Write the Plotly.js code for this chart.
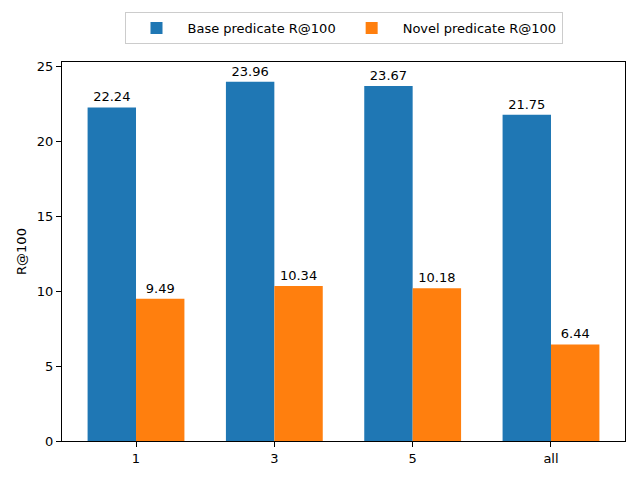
<!DOCTYPE html>
<html>
<head>
<meta charset="utf-8">
<script src="https://cdn.plot.ly/plotly-3.0.1.min.js"></script>
<style>html,body{margin:0;padding:0;background:#fff;}#chart{width:640px;height:480px;}</style>
</head>
<body>
<div id="chart"></div>
<script>
const categories = ["1", "3", "5", "all"];
const basePredicate = [22.24, 23.96, 23.67, 21.75];
const novelPredicate = [9.49, 10.34, 10.18, 6.44];
const seriesNames = ["Base predicate R@100", "Novel predicate R@100"];
const yTicks = [0, 5, 10, 15, 20, 25];

const xs = categories.map((c, i) => i);
const font = {family: "DejaVu Sans, sans-serif", size: 13, color: "#000"};

const traces = [
  {type: "bar", x: xs, y: basePredicate, name: seriesNames[0], width: 0.35, offset: -0.35,
   marker: {color: "#1f77b4"}, text: basePredicate.map(v => v.toFixed(2)), textposition: "outside",
   cliponaxis: false, textfont: font},
  {type: "bar", x: xs, y: novelPredicate, name: seriesNames[1], width: 0.35, offset: 0,
   marker: {color: "#ff7f0e"}, text: novelPredicate.map(v => v.toFixed(2)), textposition: "outside",
   cliponaxis: false, textfont: font}
];

const layout = {
  width: 640, height: 480,
  margin: {l: 62, r: 15, t: 62, b: 39},
  paper_bgcolor: "#fff", plot_bgcolor: "#fff",
  font: font,
  barmode: "overlay",
  showlegend: true,
  legend: {orientation: "h", x: 0.5, xanchor: "center", y: 0.975, yanchor: "top",
    xref: "paper", yref: "container", bordercolor: "#cccccc", borderwidth: 1, font: font, traceorder: "normal",
    itemwidth: 52, tracegroupgap: 0},
  xaxis: {range: [-0.535, 3.535], tickvals: xs, ticktext: categories, showgrid: false, zeroline: false,
    showline: true, mirror: true, linecolor: "#000", linewidth: 1, ticks: "outside", ticklen: 5, tickcolor: "#000",
    tickfont: font},
  yaxis: {range: [0, 25.27], tickvals: yTicks, showgrid: false, zeroline: false,
    showline: true, mirror: true, linecolor: "#000", linewidth: 1, ticks: "outside", ticklen: 5, tickcolor: "#000",
    tickfont: font, title: {text: "R@100", font: font, standoff: 7}}
};

Plotly.newPlot("chart", traces, layout, {displayModeBar: false, staticPlot: true});
</script>
</body>
</html>
